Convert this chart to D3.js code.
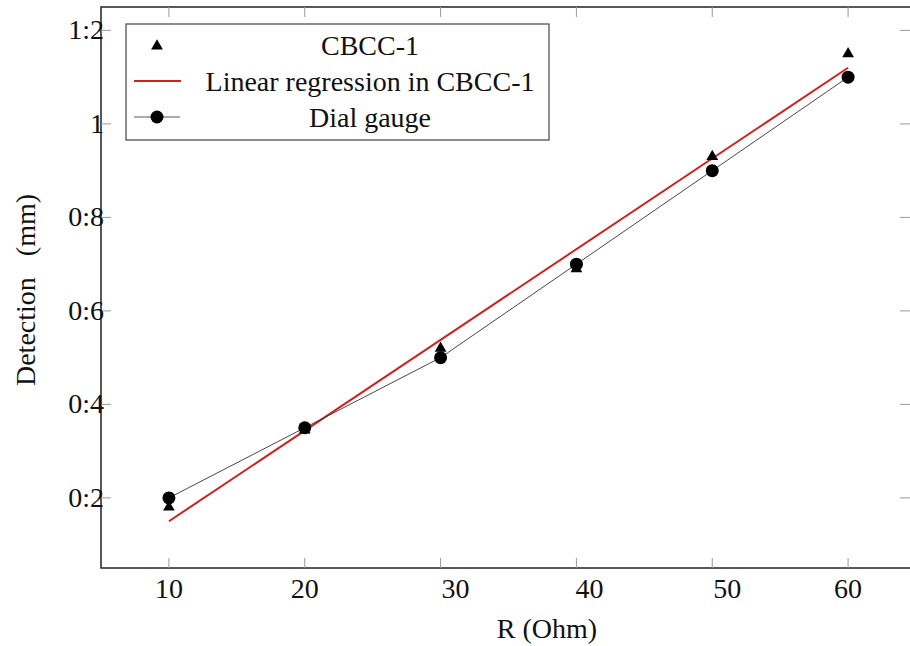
<!DOCTYPE html>
<html>
<head>
<meta charset="utf-8">
<title>Detection vs R</title>
<script src="https://cdn.jsdelivr.net/npm/d3@7"></script>
<style>
  body { margin: 0; background: #fff; }
  #chart { position: relative; width: 910px; height: 646px; }
  #chart svg { position: absolute; left: 0; top: 0; }
</style>
</head>
<body>
<div id="chart"></div>
<script>
// data
var rVals = [10, 20, 30, 40, 50, 60];
var cbccVals = [0.18, 0.345, 0.52, 0.69, 0.93, 1.15];
var dialVals = [0.2, 0.35, 0.5, 0.7, 0.9, 1.1];
var regR = [10, 60];
var regVals = [0.15, 1.12];
var xTicks = [10, 20, 30, 40, 50, 60];
var yTicks = [0.2, 0.4, 0.6, 0.8, 1, 1.2];
var yTickLabels = ["0:2", "0:4", "0:6", "0:8", "1", "1:2"];

var W = 910, H = 646;
var root = d3.select("#chart");
var svg = root.append("svg")
  .attr("width", W).attr("height", H);

// labels are html divs over the svg, font set inline on each one
// baseline sits ~23.4px below the top of a 28px line box
var BASE = 23.4;
function lblDiv() {
  return root.append("div")
    .style("position", "absolute")
    .style("font-family", "'Liberation Serif'")
    .style("font-size", "28px")
    .style("line-height", "28px")
    .style("color", "#111")
    .style("white-space", "pre");
}
function label(txt, x0, base, anchor) {
  var tx = anchor == "middle" ? "-50%" : anchor == "end" ? "-100%" : "0";
  return lblDiv()
    .style("left", x0 + "px").style("top", (base - BASE) + "px")
    .style("transform", "translateX(" + tx + ")")
    .text(txt);
}

var x = d3.scaleLinear().domain([5, 65]).range([101, 916]);
var y = d3.scaleLinear().domain([0.05, 1.25]).range([568, 7]);

// frame
svg.append("rect")
  .attr("x", x(5)).attr("y", y(1.25))
  .attr("width", x(65) - x(5)).attr("height", y(0.05) - y(1.25))
  .attr("fill", "none").attr("stroke", "#222").attr("stroke-width", 1.5);

// ticks inside on all sides
var tickCol = "#999";
svg.append("g").selectAll("line").data(xTicks).join("line")
  .attr("x1", d => x(d)).attr("x2", d => x(d))
  .attr("y1", y(0.05)).attr("y2", y(0.05) - 10)
  .attr("stroke", tickCol);
svg.append("g").selectAll("line").data(xTicks).join("line")
  .attr("x1", d => x(d)).attr("x2", d => x(d))
  .attr("y1", y(1.25)).attr("y2", y(1.25) + 10)
  .attr("stroke", tickCol);
svg.append("g").selectAll("line").data(yTicks).join("line")
  .attr("x1", x(5)).attr("x2", x(5) + 10)
  .attr("y1", d => y(d)).attr("y2", d => y(d))
  .attr("stroke", tickCol);
svg.append("g").selectAll("line").data(yTicks).join("line")
  .attr("x1", x(65)).attr("x2", x(65) - 16)
  .attr("y1", d => y(d)).attr("y2", d => y(d))
  .attr("stroke", tickCol);

// tick labels
var xShift = {10: 0, 20: 0, 30: 15, 40: 13, 50: 15, 60: 0};
xTicks.forEach(function (d) {
  label(String(d), x(d) + xShift[d], 598, "middle");
});
yTicks.forEach(function (d, i) {
  label(yTickLabels[i], 104, y(d) + 9.5, "end");
});

// axis titles
label("R (Ohm)", 547, 638, "middle");
lblDiv()
  .style("left", "35px").style("top", "290px")
  .style("transform-origin", "0 0")
  .style("transform", "rotate(-90deg) translate(-50%, -" + BASE + "px)")
  .text("Detection   (mm)");

var red = "#d22020";

// regression line
var regPts = regR.map((r, i) => [r, regVals[i]]);
svg.append("path")
  .datum(regPts)
  .attr("fill", "none").attr("stroke", red).attr("stroke-width", 2)
  .attr("d", d3.line().x(d => x(d[0])).y(d => y(d[1])));

// dial gauge line + markers
var dialPts = rVals.map((r, i) => [r, dialVals[i]]);
svg.append("path")
  .datum(dialPts)
  .attr("fill", "none").attr("stroke", "#333").attr("stroke-width", 0.9)
  .attr("d", d3.line().x(d => x(d[0])).y(d => y(d[1])));

var tri = d3.symbol().type(d3.symbolTriangle).size(60);
svg.append("g").selectAll("path").data(rVals).join("path")
  .attr("d", tri)
  .attr("transform", (d, i) => "translate(" + x(d) + "," + y(cbccVals[i]) + ")")
  .attr("fill", "#000");

svg.append("g").selectAll("circle").data(dialPts).join("circle")
  .attr("cx", d => x(d[0])).attr("cy", d => y(d[1]))
  .attr("r", 6.5).attr("fill", "#000");

// legend
var lg = svg.append("g");
lg.append("rect")
  .attr("x", 126).attr("y", 24).attr("width", 423).attr("height", 116)
  .attr("fill", "#fff").attr("stroke", "#444").attr("stroke-width", 1.2);
lg.append("path").attr("d", tri)
  .attr("transform", "translate(157,46)").attr("fill", "#000");
lg.append("line").attr("x1", 134).attr("x2", 181).attr("y1", 81).attr("y2", 81)
  .attr("stroke", red).attr("stroke-width", 2);
lg.append("line").attr("x1", 134).attr("x2", 180).attr("y1", 117).attr("y2", 117)
  .attr("stroke", "#555").attr("stroke-width", 1);
lg.append("circle").attr("cx", 157).attr("cy", 117).attr("r", 6.5).attr("fill", "#000");
var legNames = ["CBCC-1", "Linear regression in CBCC-1", "Dial gauge"];
legNames.forEach(function (d, i) {
  label(d, 370, 55 + i * 36, "middle");
});
</script>
</body>
</html>
